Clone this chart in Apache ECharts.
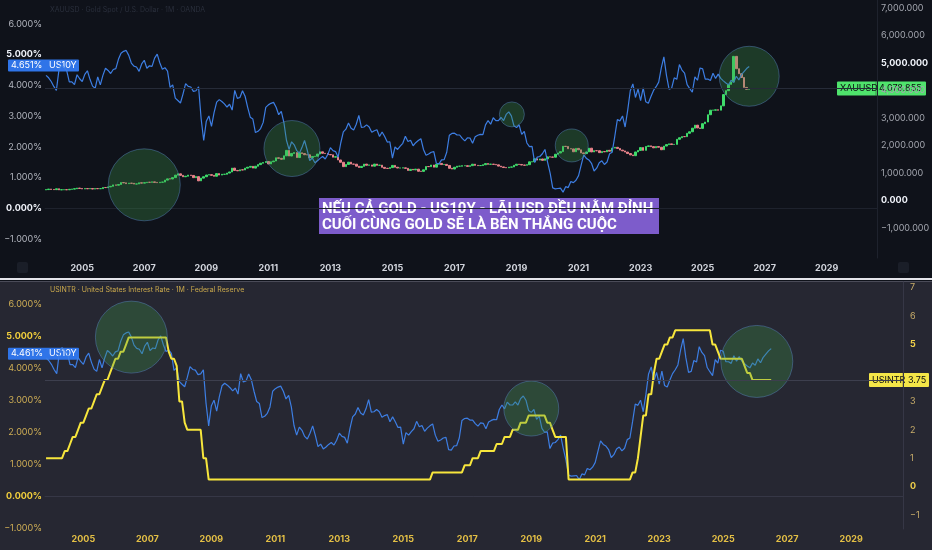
<!DOCTYPE html>
<html>
<head>
<meta charset="utf-8">
<script src="https://cdn.jsdelivr.net/npm/echarts@6/dist/echarts.min.js"></script>
<style>
html, body { margin: 0; padding: 0; }
#chart {
    width: 932px; height: 550px;
    background: linear-gradient(to bottom,
        #0f121a 0px, #0f121a 278px,
        #e4e4ea 278px, #e4e4ea 280px,
        #0f121a 280px, #0f121a 281px,
        #4a4b58 281px, #4a4b58 282px,
        #262732 282px, #262732 550px);
}
</style>
</head>
<body>
<div id="chart"></div>
<script>
// first monthly bar of every series: Nov 2003
var firstMonth = [2003, 11];

// US 10Y yield, monthly close (%)
var us10y = [
    4.33, 4.25,
    4.13, 3.97, 3.84, 4.51, 4.65, 4.58, 4.48, 4.12, 4.12, 4.03, 4.35, 4.22,
    4.13, 4.36, 4.48, 4.20, 3.98, 3.91, 4.28, 4.02, 4.33, 4.56, 4.49, 4.39,
    4.52, 4.55, 4.85, 5.05, 5.11, 5.14, 4.98, 4.73, 4.63, 4.60, 4.46, 4.70,
    4.82, 4.56, 4.64, 4.62, 4.89, 5.02, 4.74, 4.53, 4.58, 4.47, 3.94, 4.02,
    3.59, 3.51, 3.43, 3.73, 4.06, 3.97, 3.95, 3.81, 3.83, 3.96, 2.92, 2.21,
    2.84, 3.01, 2.67, 3.12, 3.46, 3.54, 3.48, 3.40, 3.30, 3.39, 3.20, 3.84,
    3.58, 3.61, 3.83, 3.65, 3.29, 2.97, 2.91, 2.47, 2.51, 2.60, 2.80, 3.29,
    3.37, 3.42, 3.45, 3.29, 3.05, 3.16, 2.80, 2.22, 1.92, 2.17, 2.07, 1.88,
    1.80, 1.98, 2.21, 1.91, 1.56, 1.64, 1.49, 1.55, 1.63, 1.69, 1.61, 1.76,
    1.98, 1.88, 1.85, 1.67, 2.13, 2.49, 2.58, 2.78, 2.61, 2.55, 2.74, 3.03,
    2.64, 2.65, 2.72, 2.65, 2.48, 2.53, 2.56, 2.34, 2.49, 2.34, 2.16, 2.17,
    1.64, 2.00, 1.92, 2.03, 2.12, 2.35, 2.18, 2.22, 2.04, 2.14, 2.21, 2.27,
    1.92, 1.73, 1.77, 1.83, 1.85, 1.47, 1.45, 1.58, 1.59, 1.83, 2.38, 2.44,
    2.45, 2.39, 2.39, 2.28, 2.20, 2.30, 2.29, 2.12, 2.33, 2.38, 2.41, 2.40,
    2.72, 2.86, 2.74, 2.95, 2.86, 2.86, 2.96, 2.86, 3.06, 3.14, 3.01, 2.69,
    2.63, 2.72, 2.41, 2.51, 2.13, 2.01, 2.02, 1.50, 1.67, 1.69, 1.78, 1.92,
    1.51, 1.15, 0.67, 0.64, 0.65, 0.66, 0.53, 0.71, 0.68, 0.88, 0.84, 0.92,
    1.07, 1.41, 1.74, 1.63, 1.58, 1.47, 1.22, 1.31, 1.49, 1.55, 1.43, 1.51,
    1.78, 1.83, 2.34, 2.89, 2.85, 3.01, 2.65, 3.19, 3.83, 4.05, 3.61, 3.88,
    3.51, 3.92, 3.47, 3.42, 3.64, 3.84, 3.96, 4.11, 4.57, 4.93, 4.33, 3.88,
    3.91, 4.25, 4.20, 4.68, 4.50, 4.40, 4.03, 3.90, 3.78, 4.28, 4.17, 4.57,
    4.54, 4.21, 4.21, 4.16, 4.40, 4.23, 4.37, 4.23, 4.15, 4.08, 4.02, 4.17,
    4.10, 4.30, 4.18, 4.35, 4.45, 4.55, 4.62
];

// XAUUSD, monthly close
var goldOpenFirst = 388;
var goldClose = [
    398, 416,
    403, 396, 427, 388, 394, 395, 391, 408, 416, 429, 453, 438,
    422, 435, 428, 436, 417, 435, 430, 433, 473, 470, 495, 517,
    569, 556, 582, 654, 643, 614, 632, 626, 599, 604, 646, 632,
    650, 665, 663, 679, 659, 650, 666, 672, 743, 789, 783, 834,
    924, 972, 916, 865, 885, 926, 913, 833, 870, 716, 815, 866,
    928, 942, 916, 883, 980, 927, 955, 955, 1000, 1040, 1180, 1096,
    1081, 1118, 1113, 1179, 1213, 1244, 1181, 1248, 1307, 1358, 1386, 1421,
    1332, 1410, 1439, 1556, 1536, 1502, 1628, 1826, 1620, 1714, 1746, 1564,
    1737, 1710, 1668, 1664, 1561, 1604, 1614, 1692, 1773, 1720, 1712, 1675,
    1663, 1578, 1595, 1476, 1393, 1234, 1313, 1396, 1327, 1323, 1250, 1202,
    1244, 1326, 1284, 1296, 1250, 1327, 1282, 1287, 1208, 1172, 1168, 1199,
    1279, 1213, 1183, 1184, 1190, 1172, 1095, 1135, 1115, 1142, 1065, 1061,
    1118, 1238, 1233, 1293, 1215, 1322, 1351, 1309, 1316, 1277, 1173, 1146,
    1211, 1249, 1249, 1268, 1268, 1242, 1269, 1322, 1280, 1271, 1275, 1303,
    1345, 1318, 1325, 1315, 1299, 1253, 1224, 1201, 1192, 1215, 1222, 1282,
    1321, 1313, 1292, 1284, 1305, 1409, 1413, 1520, 1472, 1513, 1464, 1517,
    1589, 1585, 1577, 1686, 1730, 1781, 1975, 1967, 1886, 1879, 1776, 1898,
    1847, 1734, 1708, 1769, 1906, 1770, 1814, 1813, 1743, 1783, 1774, 1829,
    1796, 1908, 1937, 1896, 1837, 1807, 1765, 1711, 1660, 1633, 1768, 1824,
    1928, 1827, 1969, 1990, 1962, 1919, 1965, 1940, 1849, 1983, 2036, 2063,
    2039, 2044, 2230, 2286, 2327, 2326, 2448, 2503, 2635, 2744, 2643, 2625,
    2798, 2858, 3124, 3289, 3289, 3303, 3290, 3448, 3858, 4000, 4230, 4320,
    5250, 4800, 4620, 4480, 4120, 4050, 4078
];

// USINTR, upper bound of the Fed target rate, monthly (%)
var usintr = [
    1.00, 1.00,
    1.00, 1.00, 1.00, 1.00, 1.00, 1.25, 1.25, 1.50, 1.75, 1.75, 2.00, 2.25,
    2.25, 2.50, 2.75, 2.75, 3.00, 3.25, 3.25, 3.50, 3.75, 3.75, 4.00, 4.25,
    4.50, 4.50, 4.75, 4.75, 5.00, 5.25, 5.25, 5.25, 5.25, 5.25, 5.25, 5.25,
    5.25, 5.25, 5.25, 5.25, 5.25, 5.25, 5.25, 5.25, 4.75, 4.50, 4.50, 4.25,
    3.00, 3.00, 2.25, 2.00, 2.00, 2.00, 2.00, 2.00, 2.00, 1.00, 1.00, 0.25,
    0.25, 0.25, 0.25, 0.25, 0.25, 0.25, 0.25, 0.25, 0.25, 0.25, 0.25, 0.25,
    0.25, 0.25, 0.25, 0.25, 0.25, 0.25, 0.25, 0.25, 0.25, 0.25, 0.25, 0.25,
    0.25, 0.25, 0.25, 0.25, 0.25, 0.25, 0.25, 0.25, 0.25, 0.25, 0.25, 0.25,
    0.25, 0.25, 0.25, 0.25, 0.25, 0.25, 0.25, 0.25, 0.25, 0.25, 0.25, 0.25,
    0.25, 0.25, 0.25, 0.25, 0.25, 0.25, 0.25, 0.25, 0.25, 0.25, 0.25, 0.25,
    0.25, 0.25, 0.25, 0.25, 0.25, 0.25, 0.25, 0.25, 0.25, 0.25, 0.25, 0.25,
    0.25, 0.25, 0.25, 0.25, 0.25, 0.25, 0.25, 0.25, 0.25, 0.25, 0.25, 0.50,
    0.50, 0.50, 0.50, 0.50, 0.50, 0.50, 0.50, 0.50, 0.50, 0.50, 0.50, 0.75,
    0.75, 0.75, 1.00, 1.00, 1.00, 1.25, 1.25, 1.25, 1.25, 1.25, 1.25, 1.50,
    1.50, 1.50, 1.75, 1.75, 1.75, 2.00, 2.00, 2.00, 2.25, 2.25, 2.25, 2.50,
    2.50, 2.50, 2.50, 2.50, 2.50, 2.50, 2.25, 2.25, 2.00, 1.75, 1.75, 1.75,
    1.75, 1.75, 0.25, 0.25, 0.25, 0.25, 0.25, 0.25, 0.25, 0.25, 0.25, 0.25,
    0.25, 0.25, 0.25, 0.25, 0.25, 0.25, 0.25, 0.25, 0.25, 0.25, 0.25, 0.25,
    0.25, 0.25, 0.50, 0.50, 1.00, 1.75, 2.50, 2.50, 3.25, 3.25, 4.00, 4.50,
    4.50, 4.75, 5.00, 5.00, 5.25, 5.25, 5.50, 5.50, 5.50, 5.50, 5.50, 5.50,
    5.50, 5.50, 5.50, 5.50, 5.50, 5.50, 5.50, 5.50, 5.00, 5.00, 4.75, 4.50,
    4.50, 4.50, 4.50, 4.50, 4.50, 4.50, 4.50, 4.50, 4.25, 4.00, 4.00, 3.75,
    3.75, 3.75, 3.75, 3.75, 3.75, 3.75, 3.75
];

// last-value tags
var us10yTopLast = 4.651;
var us10yBottomLast = 4.461;
var goldLast = 4078.855;
var usintrLast = 3.75;

// axis ticks
var yearTicks = [2005, 2007, 2009, 2011, 2013, 2015, 2017, 2019, 2021, 2023, 2025, 2027, 2029];
var pctTicks = [-1, 0, 1, 2, 3, 4, 5, 6];
var goldTicks = [-1000, 0, 1000, 2000, 3000, 4000, 5000, 6000, 7000];
var rateTicks = [-1, 0, 1, 2, 3, 5, 6, 7];

// highlighted zones: [year, US10Y %]
var topZones = [[2007.0, 0.77], [2011.76, 1.95], [2018.85, 3.06], [2020.78, 2.05], [2026.5, 4.30]];
var bottomZones = [[2006.5, 4.98], [2019.0, 2.75], [2026.05, 4.22]];

var note1 = 'NẾU CẢ GOLD - US10Y - LÃI USD ĐỀU NẰM ĐỈNH';
var note2 = 'CUỐI CÙNG GOLD SẼ LÀ BÊN THẮNG CUỘC';

var FONT = 'Inter, "Noto Sans", sans-serif';
var topZoneSizes = [72, 56, 25, 33, 60];
var bottomZoneSizes = [72, 55, 72];

function monthX(i) {
    return firstMonth[0] + (firstMonth[1] - 1 + i) / 12;
}

var us10yData = us10y.map(function (v, i) { return [monthX(i), v]; });
var usintrData = usintr.map(function (v, i) { return [monthX(i), v]; });
var goldData = goldClose.map(function (c, i) {
    var o = i ? goldClose[i - 1] : goldOpenFirst;
    return [monthX(i), o, c, Math.min(o, c), Math.max(o, c)];
});

function minus(v) {
    return v < 0 ? '\u2212' : '';
}

function pctLabel(v) {
    var s = minus(v) + Math.abs(v).toFixed(3) + '%';
    return (v === 5 || v === 0) ? '{b|' + s + '}' : '{n|' + s + '}';
}

var chart = echarts.init(document.getElementById('chart'));

var xBase = {
    type: 'value',
    min: 2003.8,
    max: 2030.62,
    splitLine: { show: false },
    axisTick: { show: false },
    axisLabel: {
        customValues: yearTicks,
        margin: 6,
        fontFamily: FONT,
        fontSize: 9,
        fontWeight: 'bold',
        formatter: function (v) { return String(v); }
    }
};

chart.setOption({
    animation: false,
    backgroundColor: 'transparent',
    grid: [
        { left: 45, right: 55, top: 0, height: 258, outerBoundsMode: 'none' },
        { left: 45, right: 29, top: 282, height: 247, outerBoundsMode: 'none' }
    ],
    xAxis: [
        echarts.util.merge({
            gridIndex: 0,
            axisLine: { lineStyle: { color: '#1e222d' } },
            axisLabel: { color: '#d1d4dc' }
        }, xBase),
        echarts.util.merge({
            gridIndex: 1,
            axisLine: { lineStyle: { color: '#363746' } },
            axisLabel: { color: '#e3bf45' }
        }, xBase)
    ],
    yAxis: [
        {
            gridIndex: 0, type: 'value', position: 'left',
            min: -1.61, max: 6.78,
            splitLine: { show: false }, axisTick: { show: false }, axisLine: { show: false },
            axisLabel: {
                customValues: pctTicks, margin: 3, formatter: pctLabel,
                rich: {
                    n: { color: '#b2b5be', fontSize: 9, fontFamily: FONT },
                    b: { color: '#f0f3fa', fontSize: 9, fontFamily: FONT, fontWeight: 'bold' }
                }
            }
        },
        {
            gridIndex: 0, type: 'value', position: 'right',
            min: -2094, max: 7303,
            splitLine: { show: false }, axisTick: { show: false },
            axisLine: { show: true, lineStyle: { color: '#1e222d' } },
            axisLabel: {
                customValues: goldTicks, margin: 4,
                formatter: function (v) {
                    var s = minus(v) + echarts.format.addCommas(Math.abs(v)) + '.000';
                    return (v === 5000 || v === 0) ? '{b|' + s + '}' : '{n|' + s + '}';
                },
                rich: {
                    n: { color: '#a3a6af', fontSize: 9, fontFamily: FONT },
                    b: { color: '#f0f3fa', fontSize: 9, fontFamily: FONT, fontWeight: 'bold' }
                }
            }
        },
        {
            gridIndex: 1, type: 'value', position: 'left',
            min: -1.01, max: 6.7,
            splitLine: { show: false }, axisTick: { show: false }, axisLine: { show: false },
            axisLabel: {
                customValues: pctTicks, margin: 3, formatter: pctLabel,
                rich: {
                    n: { color: '#cfae55', fontSize: 9, fontFamily: FONT },
                    b: { color: '#f2cf3c', fontSize: 9, fontFamily: FONT, fontWeight: 'bold' }
                }
            }
        },
        {
            gridIndex: 1, type: 'value', position: 'right',
            min: -1.49, max: 7.2,
            splitLine: { show: false }, axisTick: { show: false },
            axisLine: { show: true, lineStyle: { color: '#363746' } },
            axisLabel: {
                customValues: rateTicks, margin: 7,
                formatter: function (v) {
                    var s = minus(v) + Math.abs(v);
                    return (v === 5 || v === 0) ? '{b|' + s + '}' : '{n|' + s + '}';
                },
                rich: {
                    n: { color: '#c8ad6a', fontSize: 9, fontFamily: FONT },
                    b: { color: '#efd04a', fontSize: 9, fontFamily: FONT, fontWeight: 'bold' }
                }
            }
        }
    ],
    series: [
        {
            name: 'XAUUSD', type: 'candlestick',
            xAxisIndex: 0, yAxisIndex: 1,
            encode: { x: 0, y: [1, 2, 3, 4] },
            barWidth: 2,
            itemStyle: {
                color: '#3fdc6b', color0: '#e8828a',
                borderColor: '#3fdc6b', borderColor0: '#e8828a', borderWidth: 1
            },
            markLine: {
                silent: true, symbol: 'none', label: { show: false },
                lineStyle: { color: '#262b38', type: 'solid', width: 1 },
                data: [{ yAxis: goldLast }]
            },
            data: goldData,
            z: 2
        },
        {
            name: 'US10Y', type: 'line',
            xAxisIndex: 0, yAxisIndex: 0,
            showSymbol: false,
            lineStyle: { color: '#3d7ee3', width: 1.2 },
            data: us10yData,
            z: 3
        },
        {
            name: 'zones-top', type: 'scatter',
            xAxisIndex: 0, yAxisIndex: 0, silent: true,
            symbolSize: function (v, p) { return topZoneSizes[p.dataIndex]; },
            itemStyle: { color: 'rgba(62,150,72,0.38)', borderColor: 'rgba(90,140,200,0.55)', borderWidth: 1 },
            data: topZones,
            z: 4
        },
        {
            name: 'US10Y', type: 'line',
            xAxisIndex: 1, yAxisIndex: 2,
            showSymbol: false,
            lineStyle: { color: '#3d7ee3', width: 1.2 },
            data: us10yData,
            z: 3
        },
        {
            name: 'USINTR', type: 'line',
            xAxisIndex: 1, yAxisIndex: 3,
            showSymbol: false,
            lineStyle: { color: '#f7e63c', width: 2 },
            markLine: {
                silent: true, symbol: 'none', label: { show: false },
                lineStyle: { color: '#3d3f4e', type: 'solid', width: 1 },
                data: [{ yAxis: usintrLast }]
            },
            data: usintrData,
            z: 3
        },
        {
            name: 'zones-bottom', type: 'scatter',
            xAxisIndex: 1, yAxisIndex: 2, silent: true,
            symbolSize: function (v, p) { return bottomZoneSizes[p.dataIndex]; },
            itemStyle: { color: 'rgba(62,150,72,0.38)', borderColor: 'rgba(90,140,200,0.55)', borderWidth: 1 },
            data: bottomZones,
            z: 4
        }
    ]
});

// price tags on the scales, placed through the axes
function tag(x, y, w, h, splitX, fill, ink, left, right, rightX) {
    var els = [
        { type: 'rect', shape: { x: x, y: y - h / 2, width: w, height: h, r: 1 }, style: { fill: fill } },
        { type: 'text', x: x + 3, y: y, style: { text: left, fill: ink, font: '9px ' + FONT, verticalAlign: 'middle' } },
        { type: 'text', x: rightX, y: y, style: { text: right, fill: ink, font: '9px ' + FONT, verticalAlign: 'middle' } }
    ];
    if (splitX) {
        els.push({ type: 'line', shape: { x1: splitX, y1: y - h / 2, x2: splitX, y2: y + h / 2 }, style: { stroke: 'rgba(0,0,0,0.35)', lineWidth: 1 } });
    }
    return { type: 'group', z: 20, children: els };
}

var yUsTop = chart.convertToPixel({ yAxisIndex: 0 }, us10yTopLast);
var yGold = chart.convertToPixel({ yAxisIndex: 1 }, goldLast);
var yUsBot = chart.convertToPixel({ yAxisIndex: 2 }, us10yBottomLast);
var yRate = chart.convertToPixel({ yAxisIndex: 3 }, usintrLast);

chart.setOption({
    graphic: { elements: [
        { type: 'text', x: 50, y: 10, z: 20, style: { text: 'XAUUSD \u00b7 Gold Spot / U.S. Dollar \u00b7 1M \u00b7 OANDA', fill: '#2a2f3c', font: '7px ' + FONT, verticalAlign: 'middle' } },
        { type: 'text', x: 50, y: 290, z: 20, style: { text: 'USINTR \u00b7 United States Interest Rate \u00b7 1M \u00b7 Federal Reserve', fill: '#c9a84c', font: '7px ' + FONT, verticalAlign: 'middle' } },
        tag(8, yUsTop, 71, 12, 0, '#2f74e8', '#ffffff', us10yTopLast.toFixed(3) + '%', 'US10Y', 49),
        tag(8, yUsBot, 71, 12, 0, '#2f74e8', '#ffffff', us10yBottomLast.toFixed(3) + '%', 'US10Y', 49),
        tag(837, yGold, 89, 14, 876, '#4fe36c', '#0b0d10', 'XAUUSD', echarts.format.addCommas(goldLast.toFixed(3)), 879),
        tag(869, yRate, 60, 14, 903, '#f4e648', '#0b0d10', 'USINTR', String(usintrLast), 908),
        {
            type: 'group', z: 20, children: [
                { type: 'rect', shape: { x: 319, y: 198, width: 340, height: 36 }, style: { fill: '#7d5ccb' } },
                { type: 'text', x: 322, y: 209, style: { text: note1, fill: '#ffffff', font: 'bold 15px Roboto, "Noto Sans", sans-serif', verticalAlign: 'middle' } },
                { type: 'text', x: 322, y: 225, style: { text: note2, fill: '#ffffff', font: 'bold 15px Roboto, "Noto Sans", sans-serif', verticalAlign: 'middle' } }
            ]
        },
        { type: 'rect', z: 20, shape: { x: 17, y: 262, width: 11, height: 11, r: 2 }, style: { fill: '#1a1e28' } },
        { type: 'rect', z: 20, shape: { x: 898, y: 262, width: 11, height: 11, r: 2 }, style: { fill: '#1a1e28' } }
    ] }
});
</script>
</body>
</html>
